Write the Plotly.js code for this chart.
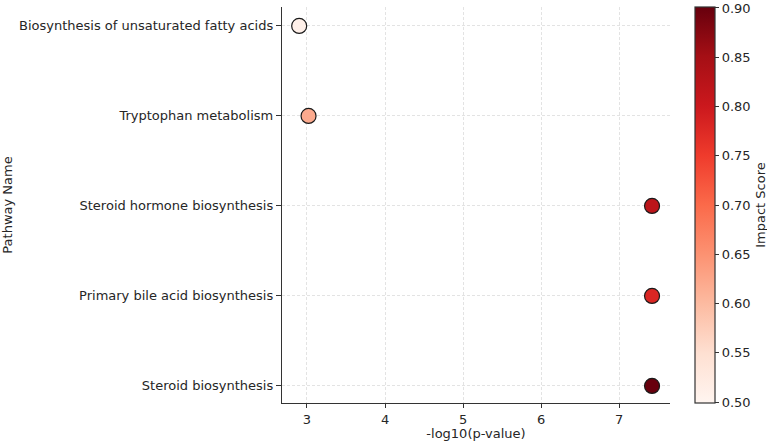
<!DOCTYPE html>
<html>
<head>
<meta charset="utf-8">
<script src="https://cdn.plot.ly/plotly-3.0.1.min.js"></script>
<style>html,body{margin:0;padding:0;background:#fff;}#chart{width:767px;height:441px;}</style>
</head>
<body>
<div id="chart"></div>
<script>
const pathways = ["Steroid biosynthesis", "Primary bile acid biosynthesis", "Steroid hormone biosynthesis", "Tryptophan metabolism", "Biosynthesis of unsaturated fatty acids"];
const negLogP = [7.42, 7.42, 7.42, 3.02, 2.90];
const impact = [0.90, 0.78, 0.82, 0.62, 0.51];
const cbTicks = [0.50, 0.55, 0.60, 0.65, 0.70, 0.75, 0.80, 0.85, 0.90];

const reds = [
  [0.0, "#fff5f0"], [0.125, "#fee0d2"], [0.25, "#fcbba1"], [0.375, "#fc9272"],
  [0.5, "#fb6a4a"], [0.625, "#ef3b2c"], [0.75, "#cb181d"], [0.875, "#a50f15"], [1.0, "#67000d"]
];
const font = {family: "DejaVu Sans, sans-serif", size: 13, color: "#262626"};

Plotly.newPlot("chart", [{
  type: "scatter", mode: "markers",
  x: negLogP, y: pathways,
  marker: {
    size: 15, color: impact, colorscale: reds, cmin: 0.499, cmax: 0.901,
    line: {color: "#1a1a1a", width: 1.2},
    colorbar: {
      xref: "container", x: 0.906, xanchor: "left", xpad: 0,
      yref: "paper", y: 0.5, yanchor: "middle", len: 1, lenmode: "fraction", ypad: 0,
      thickness: 20, outlinecolor: "#333", outlinewidth: 1.2,
      tickmode: "array", tickvals: cbTicks, ticktext: cbTicks.map(v => v.toFixed(2)),
      ticks: "outside", ticklen: 4, tickcolor: "#333", tickfont: font,
      title: {text: "Impact Score", side: "right", font: font}
    }
  },
  hoverinfo: "x+y"
}], {
  width: 767, height: 441,
  margin: {l: 282, r: 97, t: 7, b: 38},
  paper_bgcolor: "#fff", plot_bgcolor: "#fff",
  font: font,
  showlegend: false,
  xaxis: {
    range: [2.68, 7.65], tickvals: [3, 4, 5, 6, 7], ticks: "outside", ticklen: 4, tickcolor: "#333",
    showline: true, linecolor: "#333", linewidth: 1.2, mirror: false,
    showgrid: true, gridcolor: "#dcdcdc", griddash: "3px,2px", gridwidth: 0.8, zeroline: false,
    tickfont: font,
    title: {text: "-log10(p-value)", font: font, standoff: 6}
  },
  yaxis: {
    type: "category", categoryorder: "array", categoryarray: pathways, range: [-0.19, 4.21],
    ticks: "outside", ticklen: 5, tickcolor: "#333",
    showline: true, linecolor: "#333", linewidth: 1.2,
    showgrid: true, gridcolor: "#dcdcdc", griddash: "3px,2px", gridwidth: 0.8, zeroline: false,
    title: {text: "Pathway Name", font: font, standoff: 10}
  }
}, {displayModeBar: false, staticPlot: true});
</script>
</body>
</html>
